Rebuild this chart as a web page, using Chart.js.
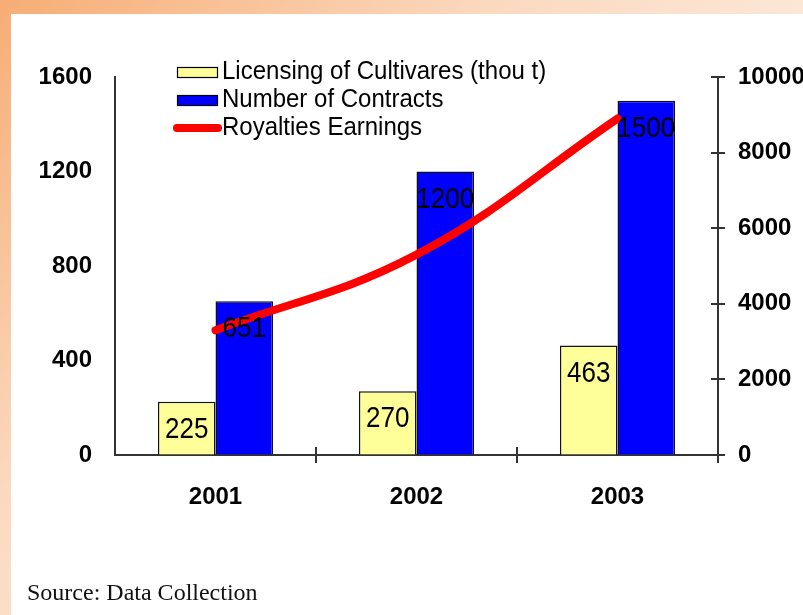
<!DOCTYPE html>
<html>
<head>
<meta charset="utf-8">
<script src="https://cdn.jsdelivr.net/npm/chart.js@4"></script>
<style>
  html, body { margin: 0; padding: 0; }
  body {
    width: 803px; height: 615px; overflow: hidden; position: relative;
    background: linear-gradient(135deg, #f6ad74 0%, #fbd9bf 35%, #fdeee3 70%, #fff8f3 100%);
  }
  #sheet { position: absolute; left: 11px; top: 14px; right: 0; bottom: 0; background: #fff; }
  #wrap { position: absolute; left: 0; top: 0; width: 803px; height: 615px; }
  #source {
    position: absolute; left: 27px; top: 579px;
    font: 24px "Liberation Serif", "Times New Roman", serif; color: #111;
  }
</style>
</head>
<body>
<div id="sheet"></div>
<div id="wrap"><canvas id="chartRoyalty"></canvas></div>
<div id="source">Source: Data Collection</div>
<script>
const years = ["2001", "2002", "2003"];
const licensing = [225, 270, 463];
const contracts = [651, 1200, 1500];
const royalties = [3300, 5300, 8900];
const leftTicks = [0, 400, 800, 1200, 1600];
const rightTicks = [0, 2000, 4000, 6000, 8000, 10000];

const axisColor = "#333";
const tickFont = { family: "Liberation Sans, Arial, sans-serif", size: 24, weight: "bold" };

// value labels inside top of each bar (text a bit taller than wide, like the original)
const barLabels = {
  id: "barLabels",
  afterDatasetsDraw(chart) {
    const ctx = chart.ctx;
    chart.data.datasets.forEach((ds, i) => {
      if (ds.type !== "bar") return;
      chart.getDatasetMeta(i).data.forEach((el, j) => {
        ctx.save();
        ctx.font = "26px 'Liberation Sans', Arial, sans-serif";
        ctx.fillStyle = "#000";
        ctx.textAlign = "center";
        ctx.textBaseline = "middle";
        ctx.translate(el.x, el.y + 28);
        ctx.scale(1, 1.15);
        ctx.fillText(String(ds.data[j]), 0, 0);
        ctx.restore();
      });
    });
  }
};

// tick marks crossing the axes
const crossTicks = {
  id: "crossTicks",
  afterDraw(chart) {
    const ctx = chart.ctx;
    const x = chart.scales.x, y2 = chart.scales.y2;
    const bottom = chart.chartArea.bottom, right = chart.chartArea.right;
    ctx.save();
    ctx.strokeStyle = axisColor;
    ctx.lineWidth = 2;
    ctx.beginPath();
    y2.ticks.forEach(t => {
      const py = Math.round(y2.getPixelForValue(t.value));
      ctx.moveTo(right - 7, py);
      ctx.lineTo(right + 7, py);
    });
    ctx.moveTo(right, bottom);
    ctx.lineTo(right, bottom + 8);
    for (let i = 1; i < years.length; i++) {
      const px = Math.round((x.getPixelForValue(i - 1) + x.getPixelForValue(i)) / 2);
      ctx.moveTo(px, bottom - 8);
      ctx.lineTo(px, bottom + 8);
    }
    ctx.stroke();
    ctx.restore();
  }
};

// legend placed inside the plot, top left
const innerLegend = {
  id: "innerLegend",
  afterDraw(chart) {
    const ctx = chart.ctx;
    const rows = [72, 100, 128];
    chart.data.datasets.forEach(ds => {
      const y = rows[ds.legendRow];
      ctx.save();
      if (ds.type === "bar") {
        ctx.fillStyle = ds.backgroundColor;
        ctx.fillRect(177, y - 5, 41, 11);
        ctx.strokeStyle = "#000";
        ctx.lineWidth = 1.2;
        ctx.strokeRect(177.5, y - 4.5, 40, 10);
      } else {
        ctx.strokeStyle = ds.borderColor;
        ctx.lineWidth = 8;
        ctx.lineCap = "round";
        ctx.beginPath();
        ctx.moveTo(177, y);
        ctx.lineTo(218, y);
        ctx.stroke();
      }
      ctx.font = "24px 'Liberation Sans', Arial, sans-serif";
      ctx.textBaseline = "middle";
      ctx.textAlign = "left";
      ctx.fillStyle = "#000";
      ctx.translate(222, y);
      ctx.scale(1, 1.08);
      ctx.fillText(ds.label, 0, 0);
      ctx.restore();
    });
  }
};

new Chart(document.getElementById("chartRoyalty"), {
  data: {
    labels: years,
    datasets: [
      {
        type: "line", label: "Royalties Earnings", data: royalties, yAxisID: "y2",
        borderColor: "#ff0000", borderWidth: 8, borderCapStyle: "round",
        tension: 0.4, pointRadius: 0, order: 0, legendRow: 2
      },
      {
        type: "bar", label: "Licensing of Cultivares (thou t)", data: licensing, yAxisID: "y",
        backgroundColor: "#ffff99", borderColor: "#111", borderWidth: 1.5,
        categoryPercentage: 0.573, barPercentage: 1.0, order: 1, legendRow: 0
      },
      {
        type: "bar", label: "Number of Contracts", data: contracts, yAxisID: "y",
        backgroundColor: "#0000ff", borderColor: "#111", borderWidth: 1.5,
        categoryPercentage: 0.573, barPercentage: 1.0, order: 1, legendRow: 1
      }
    ]
  },
  options: {
    responsive: true,
    maintainAspectRatio: false,
    animation: false,
    layout: { padding: { top: 77, left: 0, right: 0, bottom: 0 } },
    plugins: { legend: { display: false }, tooltip: { enabled: false } },
    scales: {
      x: {
        offset: true,
        grid: { display: false },
        border: { color: axisColor, width: 2 },
        ticks: { color: "#000", font: tickFont, padding: 20 },
        afterFit(s) { s.height = 160; }
      },
      y: {
        position: "left",
        min: 0, max: 1600,
        afterBuildTicks(s) { s.ticks = leftTicks.map(v => ({ value: v })); },
        grid: { drawOnChartArea: false, drawTicks: false },
        border: { color: axisColor, width: 2 },
        ticks: { color: "#000", font: tickFont, padding: 23, callback: v => String(v) },
        afterFit(s) { s.width = 115; }
      },
      y2: {
        position: "right",
        min: 0, max: 10000,
        afterBuildTicks(s) { s.ticks = rightTicks.map(v => ({ value: v })); },
        grid: { drawOnChartArea: false, drawTicks: false },
        border: { color: axisColor, width: 2 },
        ticks: { color: "#000", font: tickFont, padding: 20, callback: v => String(v) },
        afterFit(s) { s.width = 85; }
      }
    }
  },
  plugins: [barLabels, crossTicks, innerLegend]
});
</script>
</body>
</html>
